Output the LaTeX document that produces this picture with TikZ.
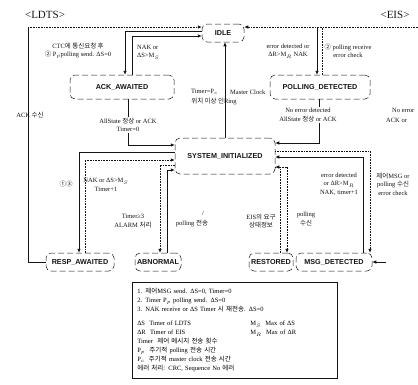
\documentclass[tikz,border=0pt]{standalone}
\usepackage{fontspec}
\setmainfont{Liberation Serif}
\setsansfont{Liberation Sans}
\newfontfamily\korfont{Noto Sans CJK KR}
\newcommand{\kor}[1]{{\korfont #1}}
\usepackage{tikz}
\usetikzlibrary{arrows.meta, positioning, calc}
\definecolor{inkblack}{RGB}{20,20,20}
\tikzset{every node/.append style={align=center}}
\tikzset{
  st/.style={rectangle, draw=inkblack, rounded corners=5pt, dash pattern=on 6pt off 3pt,
    line width=0.5pt, minimum height=18pt, inner sep=2pt, text=inkblack,
    font=\sffamily\bfseries\fontsize{7.2}{8}\selectfont},
  ttl/.style={font=\fontsize{11}{12}\selectfont, text=inkblack},
  lbl/.style={font=\fontsize{6.5}{8.5}\selectfont, text=inkblack, inner sep=1pt},
  arrow/.style={-{Latex[length=4pt,width=3.5pt]}, line width=0.6pt, inkblack},
  dotarrow/.style={arrow, densely dotted},
  dotline/.style={line width=0.6pt, inkblack, densely dotted},
  plain/.style={line width=0.6pt, inkblack},
  legbox/.style={draw=inkblack, line width=0.6pt, anchor=north west, align=left,
    minimum width=205pt, minimum height=96pt, text width=195pt, inner sep=5pt,
    font=\fontsize{6.5}{9}\selectfont}
}

\begin{document}
\begin{tikzpicture}[x=1pt, y=-1pt]
  \useasboundingbox (0,0) rectangle (418,384);
  % titles
  \node[ttl] (ldts) at (45,15) {<LDTS>};
  \node[ttl] (eis) at (395,15) {<EIS>};
  % states
  \node[st, minimum width=42pt] (idle) at (223,33) {IDLE};
  \node[st, minimum width=104pt, minimum height=24pt] (ack) at (122,87) {ACK\_AWAITED};
  \node[st, minimum width=100pt, minimum height=24pt] (poll) at (320,87) {POLLING\_DETECTED};
  \node[st, minimum width=100pt, minimum height=36pt] (sys) at (225,156) {SYSTEM\_INITIALIZED};
  \node[st, minimum width=68pt] (resp) at (80,262) {RESP\_AWAITED};
  \node[st, minimum width=46pt] (abn) at (158,262) {ABNORMAL};
  \node[st, minimum width=44pt] (rest) at (271,262) {RESTORED};
  \node[st, minimum width=76pt] (msg) at (334,262) {MSG\_DETECTED};

  % RESP_AWAITED back to IDLE
  \coordinate (c1) at (28,27);
  \draw[plain] (resp.west) -| (c1);
  \draw[dotarrow] (c1) -- (c1 -| idle.west);
  \node[lbl] (l1) at (30,115) {ACK \kor{수신}};

  % IDLE <-> ACK_AWAITED
  \coordinate (c2) at (125,31);
  \draw[arrow] (c2 -| idle.west) -- (c2) -- (c2 |- ack.north);
  \coordinate (c3) at (132,36);
  \draw[arrow] (c3 |- ack.north) -- (c3) -- (c3 -| idle.west);
  \node[lbl] (l2) at (78,51) {CTC\kor{에 통신요청 후}\\\kor{②} P$_p$polling send. ΔS=0};
  \node[lbl, anchor=west, align=left] (l3) at (136,52) {NAK or\\ΔS>M$_S$};

  % ACK_AWAITED -> SYSTEM_INITIALIZED
  \coordinate (c4) at (128,145);
  \draw[arrow] (c4 |- ack.south) -- (c4) -- (c4 -| sys.west);
  \node[lbl, fill=white] (l4) at (128,125) {AllState \kor{정상} or ACK\\Timer=0};

  % SYSTEM_INITIALIZED -> IDLE
  \draw[arrow] (sys.north) -- (sys.north |- idle.south);
  \node[lbl, anchor=east] (l5) at (219,92) {Timer=P$_c$};
  \node[lbl, anchor=west] (l6) at (229,92) {Master Clock};
  \node[lbl] (l7) at (214,102) {\kor{위치 이상 인}Ring};

  % IDLE <-> POLLING_DETECTED
  \coordinate (c5) at (418,27);
  \draw[dotarrow] (c5) -- (c5 -| idle.east);
  \coordinate (c6) at (317,27);
  \draw[arrow] (c6) -- (c6 |- poll.north);
  \coordinate (c7) at (322,27);
  \draw[dotline] (c7 |- poll.north) -- (c7);
  \node[lbl] (l8) at (288,51) {error detected or\\ΔR>M$_R$ NAK};
  \node[lbl] (l9) at (348,51) {\kor{②} polling receive\\error check};

  % POLLING_DETECTED -> SYSTEM_INITIALIZED
  \coordinate (c8) at (319,143);
  \draw[arrow] (c8 |- poll.south) -- (c8) -- (c8 -| sys.east);
  \node[lbl, fill=white] (l10) at (308,115) {No error detected\\AllState \kor{정상} or ACK};
  \node[lbl, anchor=west] (l11) at (391,110) {No error};
  \node[lbl, anchor=west] (l12) at (385,120) {ACK or};

  % SYSTEM_INITIALIZED <-> RESP_AWAITED
  \coordinate (c9) at (79,152);
  \draw[arrow] (c9 -| sys.west) -- (c9) -- (c9 |- resp.north);
  \coordinate (c10) at (85,160);
  \draw[dotarrow] (c10 |- resp.north) -- (c10) -- (c10 -| sys.west);
  \node[lbl] (l13) at (106,185) {NAK or ΔS>M$_S$\\Timer+1};
  \node[lbl] (l14) at (66,184) {\kor{①③}};

  % SYSTEM_INITIALIZED <-> ABNORMAL
  \coordinate (c11) at (160,165);
  \draw[dotarrow] (c11 -| sys.west) -- (c11) -- (c11 |- abn.north);
  \coordinate (c12) at (167,170);
  \draw[arrow] (c12 |- abn.north) -- (c12) -- (c12 -| sys.west);
  \node[lbl] (l15) at (133,221) {Timer≥3\\ALARM \kor{처리}};
  \node[lbl] (l16) at (203,213) {/};
  \node[lbl] (l17) at (192,224) {polling \kor{전송}};

  % SYSTEM_INITIALIZED <-> RESTORED
  \coordinate (c13) at (280,167);
  \draw[dotarrow] (c13 |- rest.north) -- (c13) -- (c13 -| sys.east);
  \coordinate (c14) at (287,167);
  \draw[dotarrow] (c14 -| sys.east) -- (c14) -- (c14 |- rest.north);
  \node[lbl] (l18) at (261,221) {EIS\kor{의 요구}\\\kor{상태정보}};
  \node[lbl] (l19) at (306,219) {polling\\\kor{수신}};

  % SYSTEM_INITIALIZED <-> MSG_DETECTED
  \coordinate (c15) at (363,157);
  \draw[arrow] (c15 |- msg.north) -- (c15) -- (c15 -| sys.east);
  \coordinate (c16) at (370,151);
  \draw[dotarrow] (c16 -| sys.east) -- (c16) -- (c16 |- msg.north);
  \node[lbl] (l20) at (339,184) {error detected\\or ΔR>M$_R$\\NAK, timer+1};
  \node[lbl] (l21) at (393,184) {\kor{제어}MSG or\\polling \kor{수신}\\error check};
  \coordinate (c17) at (386,262);
  \draw[arrow] (c17) -- (msg.east);

  % legend
  \node[legbox] (leg) at (132,282) {%
    1. \kor{제어}MSG send. ΔS=0, Timer=0\\
    2. Timer P$_p$ polling send. ΔS=0\\
    3. NAK receive or ΔS Timer \kor{시 재전송}. ΔS=0\\[5pt]
    \makebox[113pt][l]{ΔS\ \ Timer of LDTS}M$_S$\ \ Max of ΔS\\
    \makebox[113pt][l]{ΔR\ \ Timer of EIS}M$_R$\ \ Max of ΔR\\
    Timer\ \ \kor{제어 메시지 전송 횟수}\\
    P$_p$\ \ \kor{주기적} polling \kor{전송 시간}\\
    P$_c$\ \ \kor{주기적} master clock \kor{전송 시간}\\
    \kor{에러 처리:} CRC, Sequence No \kor{에러}};
\end{tikzpicture}
\end{document}
